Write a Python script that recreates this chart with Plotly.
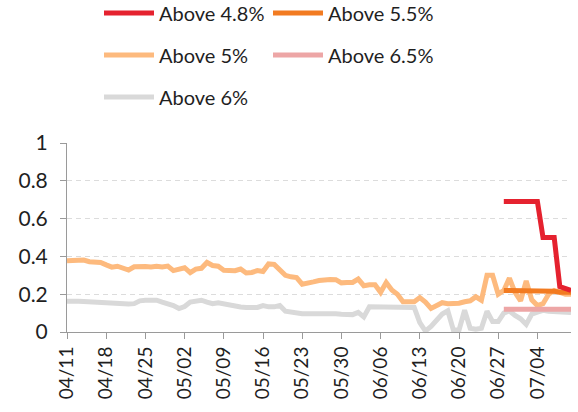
import pandas as pd
import plotly.graph_objects as go

dates = pd.date_range("2024-04-11", "2024-07-10", freq="D")

above_5 = [0.377, 0.380, 0.382, 0.381, 0.372, 0.370, 0.368, 0.355, 0.343, 0.348,
           0.340, 0.328, 0.345, 0.348, 0.347, 0.344, 0.348, 0.344, 0.349, 0.325,
           0.335, 0.340, 0.314, 0.333, 0.337, 0.368, 0.352, 0.348, 0.327, 0.325,
           0.324, 0.333, 0.312, 0.315, 0.325, 0.320, 0.360, 0.358, 0.330, 0.300,
           0.292, 0.288, 0.253, 0.256, 0.265, 0.272, 0.278, 0.278, 0.277, 0.260,
           0.262, 0.262, 0.280, 0.245, 0.250, 0.250, 0.210, 0.262, 0.222, 0.200,
           0.160, 0.158, 0.160, 0.182, 0.158, 0.125, 0.140, 0.155, 0.150, 0.150,
           0.152, 0.160, 0.165, 0.186, 0.168, 0.300, 0.300, 0.200, 0.220, 0.285,
           0.210, 0.165, 0.270, 0.170, 0.140, 0.150, 0.200, 0.220, 0.210, 0.200,
           0.200]

above_6 = [0.163, 0.160, 0.163, 0.162, 0.160, 0.160, 0.158, 0.150, 0.148, 0.148,
           0.148, 0.148, 0.150, 0.165, 0.168, 0.168, 0.168, 0.158, 0.150, 0.140,
           0.124, 0.135, 0.158, 0.160, 0.168, 0.158, 0.150, 0.154, 0.148, 0.145,
           0.135, 0.132, 0.130, 0.128, 0.130, 0.140, 0.133, 0.133, 0.140, 0.110,
           0.105, 0.098, 0.097, 0.097, 0.098, 0.097, 0.097, 0.097, 0.096, 0.094,
           0.090, 0.092, 0.104, 0.080, 0.133, 0.133, 0.133, 0.133, 0.133, 0.133,
           0.130, 0.130, 0.130, 0.050, 0.005, 0.030, 0.065, 0.095, 0.112, 0.010,
           0.010, 0.115, 0.020, 0.015, 0.020, 0.110, 0.055, 0.055, 0.100, 0.112,
           0.088, 0.070, 0.040, 0.095, 0.105, 0.115, 0.110, 0.108, 0.105, 0.105,
           0.103]

# series that only start on 06/28 (index 78)
above_4_8 = [None] * 78 + [0.69, 0.69, 0.69, 0.69, 0.69, 0.69, 0.69,
                          0.50, 0.50, 0.50, 0.24, 0.23, 0.22]
above_5_5 = [None] * 78 + [0.22, 0.22, 0.22, 0.22, 0.22, 0.22, 0.22,
                          0.22, 0.22, 0.215, 0.21, 0.21, 0.21]
above_6_5 = [None] * 78 + [0.12, 0.12, 0.12, 0.12, 0.12, 0.12, 0.12,
                          0.12, 0.12, 0.12, 0.12, 0.12, 0.12]

y_ticks = [0, 0.2, 0.4, 0.6, 0.8, 1]
y_tick_labels = ["0", "0.2", "0.4", "0.6", "0.8", "1"]

FONT = "Lato"
TXT = "#1f1f1f"

# name, values, colour, legend id, legend position (x px of entry, y px of row)
series = [
    ("Above 4.8%", above_4_8, "#E5222F", "legend", (99, 13)),
    ("Above 5.5%", above_5_5, "#F27B21", "legend2", (268, 13)),
    ("Above 5%", above_5, "#FDBA7E", "legend3", (99, 55)),
    ("Above 6.5%", above_6_5, "#EDA6A6", "legend4", (268, 55)),
    ("Above 6%", above_6, "#D9D9D9", "legend5", (99, 97)),
]

fig = go.Figure()
draw_order = [4, 2, 3, 1, 0]
for idx in draw_order:
    name, vals, col, lg, _ = series[idx]
    fig.add_trace(go.Scatter(x=dates, y=vals, name=name, mode="lines",
                             line=dict(color=col, width=5, shape="linear"),
                             legend=lg, connectgaps=False, hoverinfo="skip"))

legends = {}
for name, vals, col, lg, (lx, ly) in series:
    legends[lg] = dict(orientation="v", xref="container", yref="container",
                       xanchor="left", yanchor="middle",
                       x=lx / 578, y=1 - ly / 412,
                       font=dict(family=FONT, size=20, color=TXT),
                       itemwidth=50, bgcolor="rgba(0,0,0,0)")

fig.update_layout(
    width=578, height=412,
    margin=dict(l=67, r=7, t=143, b=80, autoexpand=False),
    paper_bgcolor="white", plot_bgcolor="white",
    font=dict(family=FONT, size=19, color=TXT),
    showlegend=True,
    **legends,
    xaxis=dict(
        type="date", range=[dates[0], dates[-1]], automargin=False,
        tick0=dates[0], dtick=7 * 24 * 3600 * 1000, tickformat="%m/%d",
        tickangle=-90, ticks="outside", ticklen=6, tickcolor="#9a9a9a",
        showline=True, linecolor="#9a9a9a", linewidth=1,
        showgrid=False, zeroline=False,
        tickfont=dict(family=FONT, size=19, color=TXT),
    ),
    yaxis=dict(
        range=[0, 1], tickvals=y_ticks, ticktext=y_tick_labels, automargin=False,
        ticks="outside", ticklen=6, tickcolor="#9a9a9a",
        showline=True, linecolor="#9a9a9a", linewidth=1,
        showgrid=True, gridcolor="#dcdcdc", griddash="5px,4px", gridwidth=1,
        zeroline=False, ticklabelstandoff=8,
        tickfont=dict(family=FONT, size=21, color=TXT),
    ),
)

fig.write_html("out.html",
               config={"displayModeBar": False},
               post_script="document.body.style.margin='0';document.body.style.padding='0';")
